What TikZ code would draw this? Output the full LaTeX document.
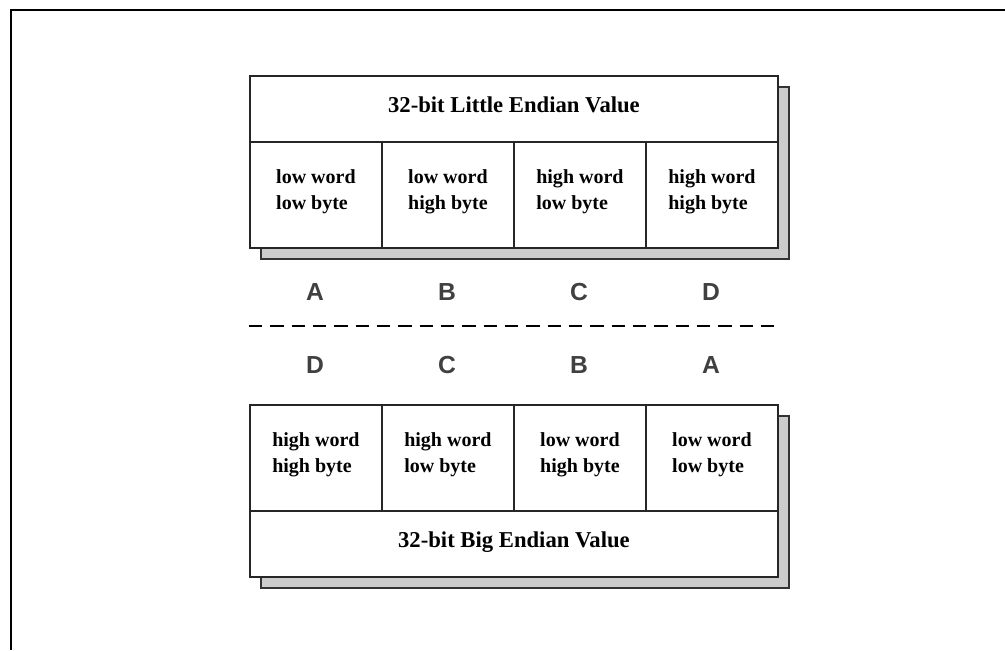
\documentclass[tikz,border=0pt]{standalone}
\usepackage{fontspec}
\setmainfont{Liberation Serif}
\newfontfamily\lettersans{Liberation Sans}
\usetikzlibrary{calc}
\tikzset{
  boxline/.style={draw=black!85, line width=1.4pt},
  cell/.style={boxline, fill=white, minimum width=99pt, minimum height=79.5pt, inner sep=0pt, anchor=north west, align=left, text depth=8pt, font=\fontsize{15}{20}\selectfont\bfseries},
  titlebox/.style={boxline, fill=white, minimum width=396pt, minimum height=49.5pt, inner sep=0pt, anchor=north west, text depth=6pt, font=\fontsize{17}{20}\selectfont\bfseries},
  shadowbox/.style={draw=black!80, fill=black!20, line width=1.4pt},
  letter/.style={font=\fontsize{18.5}{22}\lettersans\bfseries, text=black!75, inner sep=0pt},
  frameline/.style={draw=black, line width=1.3pt},
  sepline/.style={draw=black, line width=2pt, dash pattern=on 10pt off 6pt}
}
\begin{document}
\begin{tikzpicture}[x=0.75pt, y=-0.75pt]
\useasboundingbox (0,0) rectangle (1005,650);
% outer frame (top and left edges)
\coordinate (fr) at (1005,10);
\coordinate (fc) at (11,10);
\coordinate (fb) at (11,650);
\draw[frameline] (fr) -- (fc) -- (fb);
% top shadow
\coordinate (tsa) at (261,87);
\coordinate (tsb) at (789,259);
\draw[shadowbox] (tsa) rectangle (tsb);
% top box
\node[titlebox] (ttitle) at (249,75) {32-bit Little Endian Value};
\node[cell] (t1) at (249,141) {low word\\low byte};
\node[cell] (t2) at (381,141) {low word\\high byte};
\node[cell] (t3) at (513,141) {high word\\low byte};
\node[cell] (t4) at (645,141) {high word\\high byte};
% letters
\node[letter] (ua) at (315,292) {A};
\node[letter] (ub) at (447,292) {B};
\node[letter] (uc) at (579,292) {C};
\node[letter] (ud) at (711,292) {D};
\coordinate (dl) at (249,326);
\coordinate (dr) at (777,326);
\draw[sepline] (dl) -- (dr);
\node[letter] (ld) at (315,365) {D};
\node[letter] (lc) at (447,365) {C};
\node[letter] (lb) at (579,365) {B};
\node[letter] (la) at (711,365) {A};
% bottom shadow
\coordinate (bsa) at (261,416);
\coordinate (bsb) at (789,588);
\draw[shadowbox] (bsa) rectangle (bsb);
% bottom box
\node[cell] (b1) at (249,404) {high word\\high byte};
\node[cell] (b2) at (381,404) {high word\\low byte};
\node[cell] (b3) at (513,404) {low word\\high byte};
\node[cell] (b4) at (645,404) {low word\\low byte};
\node[titlebox] (btitle) at (249,510) {32-bit Big Endian Value};
\end{tikzpicture}
\end{document}
